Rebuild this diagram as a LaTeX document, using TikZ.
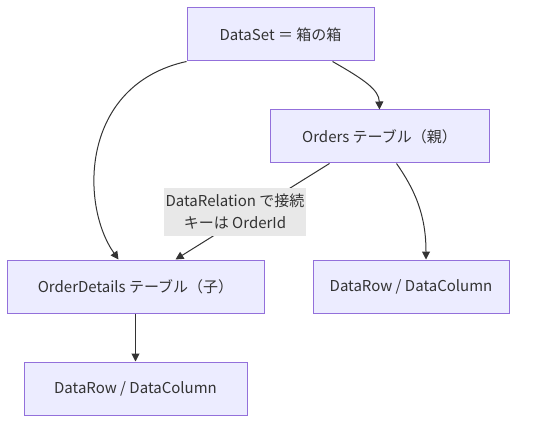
\documentclass[tikz,border=0pt]{standalone}
\usepackage{fontspec}
\setmainfont{Noto Sans CJK JP}
\usetikzlibrary{arrows.meta}
\definecolor{boxfill}{HTML}{ECECFF}
\definecolor{boxline}{HTML}{9370DB}
\definecolor{ink}{HTML}{333333}
\definecolor{lblbg}{HTML}{E8E8E8}
\begin{document}
\begin{tikzpicture}[x=1pt,y=-1pt,
  box/.style={draw=boxline,fill=boxfill,line width=1pt,text=ink,font=\fontsize{15}{18}\selectfont,inner sep=0pt,minimum height=53pt},
  conn/.style={draw=ink,line width=1pt,-{Triangle[length=8pt,width=8pt]}},
  lbl/.style={fill=lblbg,text=ink,font=\fontsize{15}{22}\selectfont,align=center,inner sep=1pt,minimum width=142pt,minimum height=48pt}]
\useasboundingbox (0,0) rectangle (553,430);
\node[box,minimum width=187pt] (ds) at (280.5,34.5) {DataSet ＝ 箱の箱};
\node[box,minimum width=219pt] (ord) at (379.5,136.5) {Orders テーブル（親）};
\node[box,minimum width=257pt] (od) at (135.5,286.5) {OrderDetails テーブル（子）};
\node[box,minimum width=196pt] (dr1) at (411,286.5) {DataRow / DataColumn};
\node[box,minimum width=223pt] (dr2) at (135.5,388.5) {DataRow / DataColumn};
\draw[conn] (ds.south west) .. controls (80,85) and (80,205) .. ([xshift=-17pt]od.north);
\draw[conn] ([xshift=52pt]ds.south) .. controls (365,80) and (379,90) .. (ord.north);
\draw[conn] ([xshift=-50pt]ord.south) -- ([xshift=40pt]od.north);
\draw[conn] ([xshift=17pt]ord.south) .. controls (415,190) and (426,215) .. ([xshift=15pt]dr1.north);
\draw[conn] (od.south) -- (dr2.north);
\node[lbl] (rel) at (235,212) {DataRelation で接続\\キーは OrderId};
\end{tikzpicture}
\end{document}
